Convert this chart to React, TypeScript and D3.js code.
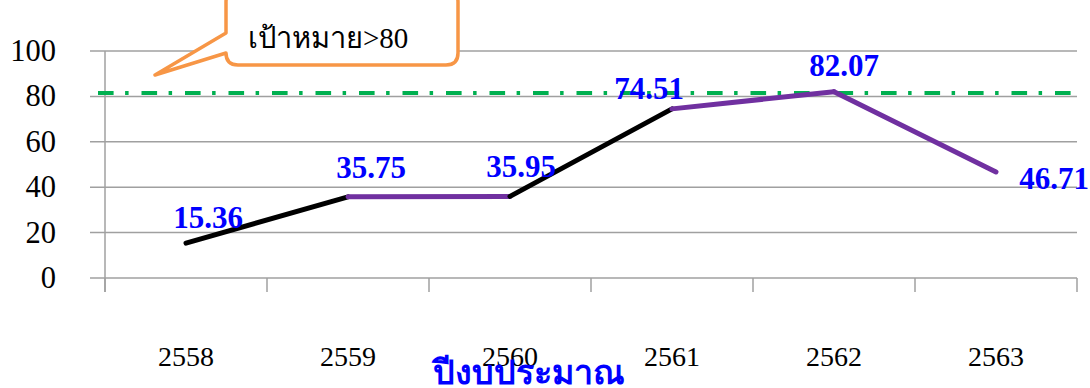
import React from "react";
import * as d3 from "d3";

const years = ["2558", "2559", "2560", "2561", "2562", "2563"];
const values = [15.36, 35.75, 35.95, 74.51, 82.07, 46.71];
const segmentColors = ["#000000", "#7030A0", "#000000", "#7030A0", "#7030A0"];
const yTicks = [0, 20, 40, 60, 80, 100];
const targetValue = 81.5;
const targetLabel = "เป้าหมาย>80";
const xTitle = "ปีงบประมาณ";
// label offsets (dx, dy) relative to point
const labelDx = [22, 23, 11, -23, 10, 58];
const labelDy = [-15, -19, -19, -10, -16, 17];

const W = 1090;
const H = 388;
const serif = "'Liberation Serif', 'Times New Roman', 'DejaVu Serif', serif";

export default function App() {
  const x = d3.scaleBand<string>().domain(years).range([105, 1077]);
  const y = d3.scaleLinear().domain([0, 100]).range([278, 51]);
  const cx = (i: number) => (x(years[i]) as number) + x.bandwidth() / 2;
  const gridColor = "#A0A0A0";
  const bounds = [...years.map((yr) => x(yr) as number), 1077];

  const line = d3.line<[number, number]>().x((d) => d[0]).y((d) => d[1]);

  return (
    <div style={{ position: "absolute", left: 0, top: 0 }}>
      <svg width={W} height={H} style={{ display: "block", background: "#fff" }}>
        {/* gridlines */}
        {yTicks.map((t) => (
          <line key={"g" + t} x1={90} x2={1077} y1={y(t)} y2={y(t)} stroke={gridColor} strokeWidth={1.5} />
        ))}
        {/* y axis */}
        <line x1={105} x2={105} y1={y(100)} y2={292} stroke={gridColor} strokeWidth={1.5} />
        {/* x ticks */}
        {bounds.map((b, i) => (
          <line key={"xt" + i} x1={b} x2={b} y1={y(0)} y2={292} stroke={gridColor} strokeWidth={1.5} />
        ))}
        {/* y tick labels */}
        {yTicks.map((t) => (
          <text key={"yl" + t} x={56} y={y(t) + 10} textAnchor="end" fontFamily={serif} fontSize={30.5} fill="#000">
            {t}
          </text>
        ))}
        {/* x tick labels */}
        {years.map((yr, i) => (
          <text key={"xl" + yr} x={cx(i)} y={366} textAnchor="middle" fontFamily={serif} fontSize={28} fill="#000">
            {yr}
          </text>
        ))}
        {/* target line */}
        <line
          x1={98}
          x2={1079}
          y1={y(targetValue)}
          y2={y(targetValue)}
          stroke="#00B050"
          strokeWidth={4}
          strokeDasharray="15.6 11.5 3.5 12.9"
        />
        {/* series segments */}
        {values.slice(0, -1).map((v, i) => (
          <path
            key={"s" + i}
            d={line([
              [cx(i), y(v)],
              [cx(i + 1), y(values[i + 1])],
            ]) as string}
            stroke={segmentColors[i]}
            strokeWidth={5}
            strokeLinecap="round"
            fill="none"
          />
        ))}
        {/* data labels */}
        {values.map((v, i) => (
          <text
            key={"dl" + i}
            x={cx(i) + labelDx[i]}
            y={y(v) + labelDy[i]}
            textAnchor="middle"
            fontFamily={serif}
            fontWeight="bold"
            fontSize={31}
            fill="#0000FF"
          >
            {v.toFixed(2)}
          </text>
        ))}
        {/* callout */}
        <path
          d="M 238 -10 L 446 -10 Q 458 -10 458 2 L 458 53 Q 458 65 446 65 L 238 65 Q 226 65 226 53 L 226 53 L 155 75 L 226 33 L 226 2 Q 226 -10 238 -10 Z"
          fill="#fff"
          stroke="#F79646"
          strokeWidth={3.5}
          strokeLinejoin="round"
        />
        <text x={248} y={48} fontFamily={serif} fontSize={29} fill="#000">
          {targetLabel}
        </text>
        {/* x title */}
        <text x={529} y={384} textAnchor="middle" fontFamily={serif} fontWeight="bold" fontSize={34} fill="#0000FF">
          {xTitle}
        </text>
      </svg>
    </div>
  );
}
